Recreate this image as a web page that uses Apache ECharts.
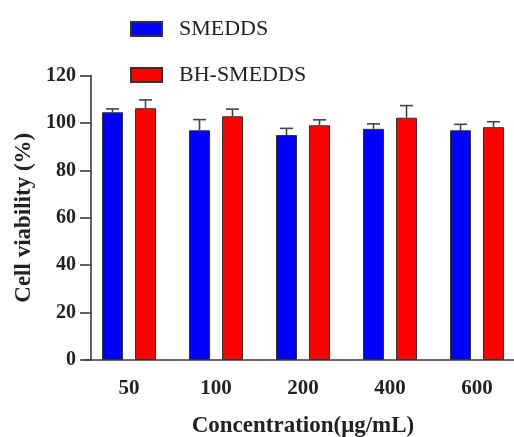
<!DOCTYPE html>
<html>
<head>
<meta charset="utf-8">
<script src="https://cdn.jsdelivr.net/npm/echarts@6/dist/echarts.min.js"></script>
<style>
html,body{margin:0;padding:0;background:#fff;}
#chart{width:514px;height:437px;}
</style>
</head>
<body>
<div id="chart"></div>
<script>
const categories = ['50', '100', '200', '400', '600'];
const smedds = [104.5, 96.9, 94.9, 97.5, 96.9];
const smeddsErr = [1.4, 4.5, 2.8, 2.1, 2.5];
const bhSmedds = [106.2, 102.8, 99.0, 102.2, 98.2];
const bhSmeddsErr = [3.5, 3.0, 2.3, 5.1, 2.3];
const yTicks = [0, 20, 40, 60, 80, 100, 120];

const BAR_W = 21;
const GAP = 12;
const FONT = '"Liberation Serif", "Times New Roman", serif';
const AXIS_C = '#3a3a3a';

const chart = echarts.init(document.getElementById('chart'), null, {renderer: 'canvas'});

function errSeries(name, vals, errs, dir) {
  return {
    type: 'custom',
    name: name + ' err',
    z: 5,
    silent: true,
    encode: {x: 0, y: 1},
    data: vals.map((v, i) => [i, v, errs[i]]),
    renderItem: function (params, api) {
      const c = api.value(0), v = api.value(1), e = api.value(2);
      const base = api.coord([c, v]);
      const top = api.coord([c, v + e]);
      const x = base[0] + dir * (BAR_W + GAP) / 2;
      const style = {stroke: '#444', lineWidth: 1.6};
      return {
        type: 'group',
        children: [
          {type: 'line', shape: {x1: x, y1: base[1], x2: x, y2: top[1]}, style: style},
          {type: 'line', shape: {x1: x - 6.5, y1: top[1], x2: x + 6.5, y2: top[1]}, style: style}
        ]
      };
    }
  };
}

chart.setOption({
  animation: false,
  backgroundColor: '#fff',
  legend: {
    orient: 'vertical',
    left: 130,
    top: 18,
    padding: 0,
    icon: 'rect',
    itemWidth: 31,
    itemHeight: 14,
    itemGap: 24,
    data: ['SMEDDS', 'BH-SMEDDS'],
    textStyle: {fontFamily: FONT, fontSize: 22, color: '#222', padding: [0, 0, 0, 12]}
  },
  grid: {left: 85.5, width: 435, top: 75.5, bottom: 77, containLabel: false, outerBoundsMode: 'none'},
  xAxis: {
    type: 'category',
    data: categories,
    name: 'Concentration(μg/mL)',
    nameLocation: 'middle',
    nameGap: 55,
    nameTextStyle: {fontFamily: FONT, fontSize: 23, fontWeight: 'bold', color: '#222'},
    axisLine: {lineStyle: {color: AXIS_C, width: 1.6}},
    axisTick: {alignWithLabel: true, length: 10, lineStyle: {color: AXIS_C, width: 1.6}},
    axisLabel: {fontFamily: FONT, fontSize: 21, fontWeight: 'bold', color: '#222', margin: 18}
  },
  yAxis: {
    type: 'value',
    min: yTicks[0],
    max: yTicks[yTicks.length - 1],
    interval: 20,
    offset: -5.5,
    name: 'Cell viability (%)',
    nameLocation: 'middle',
    nameGap: 48,
    nameTextStyle: {fontFamily: FONT, fontSize: 23, fontWeight: 'bold', color: '#222'},
    axisLine: {show: true, lineStyle: {color: AXIS_C, width: 1.6}},
    axisTick: {show: true, length: 11, lineStyle: {color: AXIS_C, width: 1.6}},
    axisLabel: {fontFamily: FONT, fontSize: 20, fontWeight: 'bold', color: '#222', margin: 15},
    splitLine: {show: false}
  },
  series: [
    {
      type: 'bar',
      name: 'SMEDDS',
      data: smedds,
      barWidth: BAR_W,
      barGap: (GAP / BAR_W * 100).toFixed(1) + '%',
      itemStyle: {color: '#0000ff', borderColor: '#333', borderWidth: 1}
    },
    {
      type: 'bar',
      name: 'BH-SMEDDS',
      data: bhSmedds,
      barWidth: BAR_W,
      barGap: (GAP / BAR_W * 100).toFixed(1) + '%',
      itemStyle: {color: '#ff0000', borderColor: '#333', borderWidth: 1}
    },
    errSeries('SMEDDS', smedds, smeddsErr, -1),
    errSeries('BH-SMEDDS', bhSmedds, bhSmeddsErr, 1)
  ]
});
</script>
</body>
</html>
